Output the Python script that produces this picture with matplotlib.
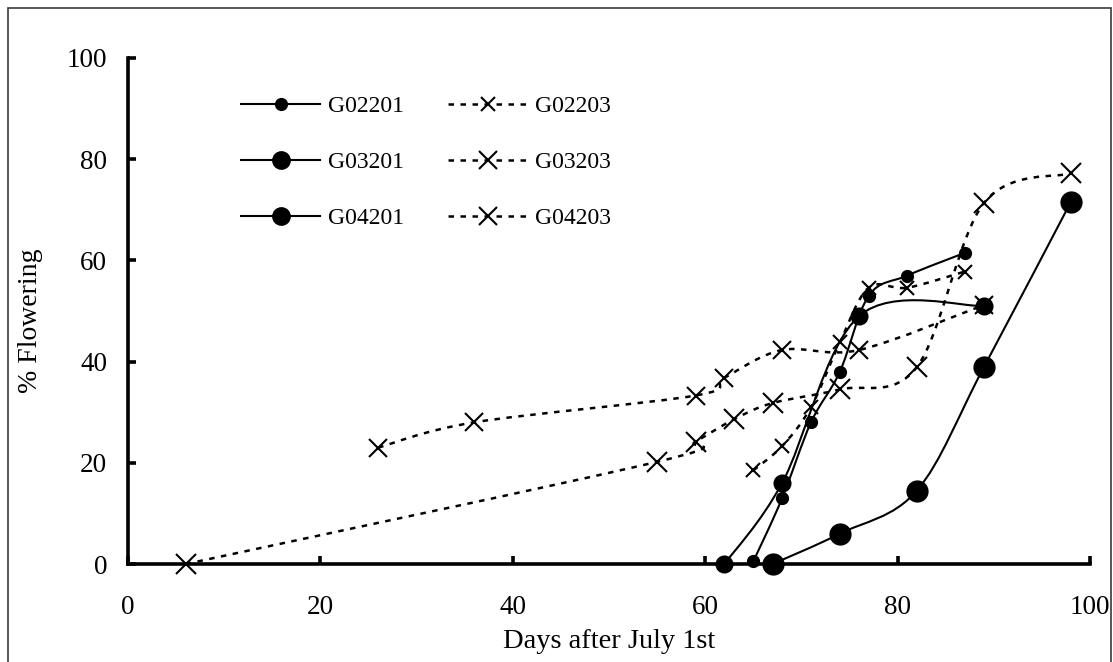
import numpy as np
import matplotlib
matplotlib.use('Agg')
import matplotlib.pyplot as plt
from matplotlib.path import Path
from matplotlib.patches import PathPatch, Rectangle
from matplotlib.lines import Line2D

# days after July 1st / % flowering
g02201_x = [65, 68, 71, 74, 77, 81, 87]
g02201_y = [0.5, 13, 28, 38, 53, 57, 61.5]
g03201_x = [62, 68, 76, 89]
g03201_y = [0, 16, 49, 51]
g04201_x = [67, 74, 82, 89, 98]
g04201_y = [0, 6, 14.5, 39, 71.5]
g02203_x = [65, 68, 71, 74, 77, 81, 87]
g02203_y = [18.5, 23.3, 31, 43.8, 54.6, 54.6, 57.8]
g03203_x = [26, 36, 59, 62, 68, 76, 89]
g03203_y = [23, 28, 33.3, 36.8, 42.3, 42.3, 51.2]
g04203_x = [6, 55, 59, 63, 67, 74, 82, 89, 98]
g04203_y = [0, 20.2, 24.2, 28.6, 31.8, 34.5, 38.9, 71.4, 77.2]

xticks = [0, 20, 40, 60, 80, 100]
yticks = [0, 20, 40, 60, 80, 100]

plt.rcParams['font.family'] = ['Liberation Serif', 'DejaVu Serif']


def smooth_path(x, y):
    # excel style smoothed line: cubic bezier through every point
    pts = np.column_stack([x, y]).astype(float)
    n = len(pts)
    verts = [pts[0]]
    codes = [Path.MOVETO]
    for i in range(n - 1):
        p0 = pts[i - 1] if i > 0 else pts[i]
        p1 = pts[i]
        p2 = pts[i + 1]
        p3 = pts[i + 2] if i + 2 < n else pts[i + 1]
        verts += [p1 + (p2 - p0) / 6.0, p2 - (p3 - p1) / 6.0, p2]
        codes += [Path.CURVE4] * 3
    return Path(verts, codes)


# name, x, y, marker, size on plot, size in legend, line style
series = [
    ('G02201', g02201_x, g02201_y, 'o', 8, 8, '-'),
    ('G03201', g03201_x, g03201_y, 'o', 11.5, 12, '-'),
    ('G04201', g04201_x, g04201_y, 'o', 14.5, 12, '-'),
    ('G02203', g02203_x, g02203_y, 'x', 9.5, 9.5, '--'),
    ('G03203', g03203_x, g03203_y, 'x', 13, 13, '--'),
    ('G04203', g04203_x, g04203_y, 'x', 15, 13, '--'),
]
dash = (2.2, 2.6)

fig = plt.figure(figsize=(11.13, 6.62), dpi=100)
ax = fig.add_axes([0.1150, 0.1480, 0.8643, 0.7644])

handles = []
for name, x, y, mk, ms, lms, ls in series:
    lw = 1.8 if ls == '--' else 1.5
    patch = PathPatch(smooth_path(x, y), transform=ax.transData, fill=False,
                      edgecolor='black', lw=lw, clip_on=False)
    if ls == '--':
        patch.set_linestyle((0, dash))
    ax.add_patch(patch)
    ax.plot(x, y, linestyle='None', marker=mk, markersize=ms, color='black',
            markeredgewidth=1.5, clip_on=False, zorder=3)
    h = Line2D([], [], color='black', lw=lw, marker=mk, markersize=lms,
               markeredgewidth=1.5)
    if ls == '--':
        h.set_dashes(dash)
    handles.append((h, name))

ax.set_xlim(0, 100)
ax.set_ylim(0, 100)
ax.set_xticks(xticks)
ax.set_yticks(yticks)
for s in ['top', 'right']:
    ax.spines[s].set_visible(False)
for s in ['left', 'bottom']:
    ax.spines[s].set_linewidth(2.6)
ax.tick_params(axis='both', direction='in', length=6, width=2.6, labelsize=19.5)
ax.tick_params(axis='y', pad=15)
ax.tick_params(axis='x', pad=22)

ax.set_xlabel('Days after July 1st', fontsize=20.5, labelpad=7)
ax.set_ylabel('% Flowering', fontsize=20)
ax.yaxis.set_label_coords(-0.088, 0.48)

ax.legend([h for h, n in handles], [n for h, n in handles], ncol=2,
          loc='upper left', bbox_to_anchor=(0.1175, 0.926), frameon=False,
          fontsize=17, handlelength=3.35, handletextpad=0.34,
          columnspacing=1.86, labelspacing=1.46, borderpad=0,
          borderaxespad=0, numpoints=1)

# thin frame round the whole chart, bottom edge falls off the picture
fig.patches.append(Rectangle((8 / 1113, -0.05), 1103 / 1113, (654 / 662) + 0.05,
                             transform=fig.transFigure, fill=False,
                             edgecolor='#3a3a3a', lw=1.2))

plt.savefig('out.png', dpi=100)
